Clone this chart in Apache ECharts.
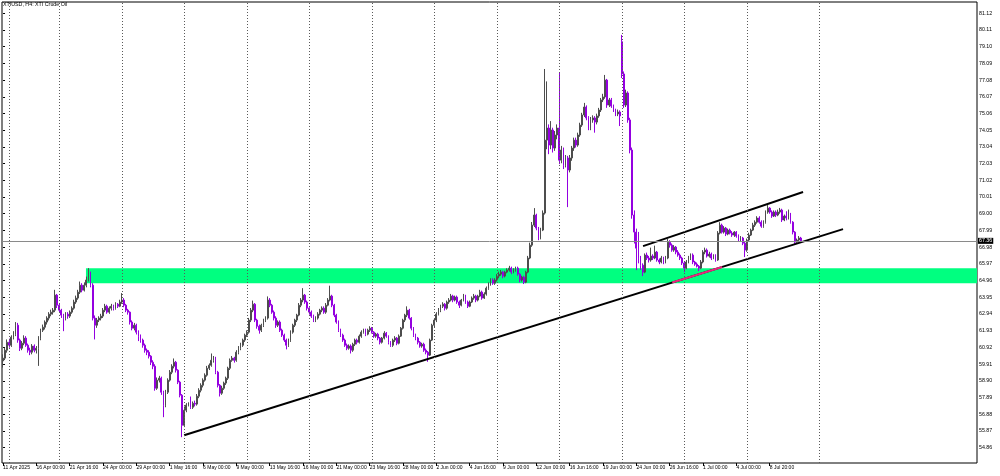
<!DOCTYPE html>
<html><head><meta charset="utf-8">
<script src="https://cdn.jsdelivr.net/npm/echarts/dist/echarts.min.js"></script>
<style>html,body{margin:0;padding:0;background:#fff}#c{width:1000px;height:476px}</style>
</head><body><div id="c"></div>
<script>
const chartTitle = 'XTIUSD, H4: XTI Crude Oil';
const xLabels = ["11 Apr 2025","16 Apr 00:00","21 Apr 16:00","24 Apr 00:00","29 Apr 00:00","1 May 16:00","6 May 00:00","9 May 00:00","13 May 16:00","16 May 00:00","21 May 00:00","23 May 16:00","28 May 00:00","2 Jun 00:00","4 Jun 16:00","9 Jun 00:00","12 Jun 00:00","16 Jun 16:00","19 Jun 00:00","24 Jun 00:00","26 Jun 16:00","1 Jul 00:00","4 Jul 00:00","8 Jul 20:00"];
const yTicks = [54.86,55.87,56.88,57.89,58.90,59.91,60.92,61.93,62.94,63.95,64.96,65.97,66.98,67.99,69.00,70.01,71.02,72.03,73.04,74.05,75.06,76.07,77.08,78.09,79.10,80.11,81.12];
const lastPrice = 67.36;
const weekStarts = [3,27,57,87,117,147,177,207,237,267,297,327,357,392];
const zone = {from: 39.8, top: 65.71, bottom: 64.80};
const supportLine = [[86.9,55.61],[403.2,68.07]];
const channelTop = [[307.2,67.04],[384.0,70.31]];
const highlightSeg = [[321.2,64.84],[345.2,65.78]];

// candles: [open, close, low, high]
const aprA = [[60.10,60.27,59.70,60.50],[60.27,60.75,60.15,60.90],[60.75,61.23,60.60,61.40],[61.23,61.05,60.90,61.45],[61.05,61.54,60.95,61.65],[61.54,61.72,61.40,61.90],[61.72,62.26,61.60,62.45],[62.26,61.36,61.20,62.40],[61.36,60.87,60.70,61.45],[60.87,61.17,60.75,61.30],[61.17,61.48,61.05,61.65],[61.48,61.05,60.95,61.60],[61.05,60.75,60.60,61.15],[60.75,60.63,60.45,60.90],[60.63,61.00,60.50,61.12],[61.00,60.75,60.62,61.10],[60.75,60.87,60.55,61.00],[60.87,61.48,59.80,61.60],[61.48,61.96,61.35,62.05],[61.96,62.14,61.85,62.30],[62.14,62.45,62.00,62.55],[62.45,62.69,62.30,62.80],[62.69,62.93,62.55,63.05],[62.93,63.05,62.80,63.20],[63.05,63.17,62.90,63.30],[63.17,64.08,63.05,64.40],[64.08,63.47,63.30,64.15],[63.47,63.17,63.00,63.55],[63.17,62.87,62.70,63.25],[62.87,62.69,61.90,62.95],[62.69,62.93,62.55,63.05],[62.93,62.81,62.65,63.05],[62.81,63.05,62.70,63.15],[63.05,63.29,62.95,63.40],[63.29,63.66,63.20,63.80],[63.66,63.90,63.55,64.05],[63.90,64.26,63.80,64.40],[64.26,64.68,64.15,64.90],[64.68,64.38,64.25,64.80],[64.38,64.68,64.30,64.85],[64.68,64.99,64.55,65.20],[64.99,65.41,64.90,65.71],[65.41,64.68,64.55,65.50],[64.68,62.69,62.55,64.80],[62.69,62.26,61.40,62.85],[62.26,62.57,62.10,62.70],[62.57,62.69,62.45,62.80],[62.69,62.81,62.55,62.95],[62.81,63.17,62.70,63.30],[63.17,63.41,63.05,63.55],[63.41,63.05,62.95,63.50],[63.05,63.29,62.95,63.40]];
const aprB = [[63.29,63.41,63.15,63.55],[63.41,63.29,63.15,63.50],[63.29,63.53,63.20,63.65],[63.53,63.41,63.30,63.60],[63.41,63.66,63.35,63.80],[63.66,63.78,63.55,64.20],[63.78,63.47,63.35,63.90],[63.47,63.17,63.05,63.55],[63.17,63.05,62.90,63.25],[63.05,62.45,62.30,63.10],[62.45,62.08,61.95,62.55],[62.08,62.26,61.95,62.40],[62.26,61.84,61.70,62.35],[61.84,61.60,61.30,61.95],[61.60,61.36,61.20,61.70],[61.36,61.05,60.90,61.45],[61.05,60.75,60.60,61.15],[60.75,60.63,60.45,60.85],[60.63,60.39,60.25,60.75],[60.39,60.02,59.85,60.45],[60.02,59.78,59.60,60.14],[59.78,58.45,58.30,59.90],[58.45,58.94,58.35,59.10],[58.94,59.06,58.80,59.20],[59.06,58.21,58.05,59.15],[58.21,57.43,56.70,58.30],[57.43,58.21,57.30,58.35],[58.21,58.94,58.10,59.05],[58.94,59.42,58.85,59.55],[59.42,59.78,59.30,59.90],[59.78,60.02,59.65,60.25],[60.02,59.54,59.40,60.10],[59.54,58.82,58.70,59.60],[58.82,58.03,57.90,58.90],[58.03,56.21,55.49,58.10],[56.21,57.12,56.10,57.35]];
const mayA = [[57.12,57.43,57.00,57.55],[57.43,57.49,57.35,57.60],[57.49,57.30,57.20,57.95],[57.30,57.54,57.20,57.65],[57.54,57.49,57.35,57.70],[57.49,57.97,57.40,58.10],[57.97,58.33,57.85,58.45],[58.33,58.63,58.20,58.75],[58.63,58.94,58.50,59.05],[58.94,59.24,58.85,59.35],[59.24,59.66,59.15,59.80],[59.66,59.84,59.55,59.95],[59.84,60.14,59.75,60.55],[60.14,60.27,60.00,60.40],[60.27,59.42,59.30,60.35],[59.42,58.63,58.50,59.50],[58.63,58.15,57.95,58.70],[58.15,58.45,58.05,58.60],[58.45,58.76,58.35,58.85],[58.76,59.06,58.65,59.15],[59.06,59.66,58.95,59.75],[59.66,60.14,59.55,60.25],[60.14,60.27,60.05,60.40],[60.27,60.14,60.00,60.35],[60.14,60.63,60.05,60.75],[60.63,60.87,60.50,61.00],[60.87,61.05,60.75,61.20],[61.05,61.36,60.95,61.45],[61.36,61.66,61.25,61.75],[61.66,61.84,61.55,61.95]];
const mayB = [[61.84,62.57,61.75,62.70],[62.57,63.17,62.45,63.30],[63.17,63.53,63.05,63.75],[63.53,62.57,62.45,63.60],[62.57,62.20,62.05,62.65],[62.20,61.96,61.75,62.30],[61.96,62.26,61.85,62.35],[62.26,62.57,62.15,62.65],[62.57,62.69,62.45,62.80],[62.69,63.78,62.60,64.00],[63.78,63.47,63.35,63.90],[63.47,63.05,62.95,63.55],[63.05,62.69,62.55,63.15],[62.69,62.26,62.10,62.80],[62.26,62.45,62.15,62.55],[62.45,61.96,61.85,62.55],[61.96,61.66,61.55,62.05],[61.66,61.36,61.25,61.75],[61.36,61.05,60.80,61.45],[61.05,61.36,60.95,61.45],[61.36,61.84,61.25,61.95],[61.84,62.26,61.75,62.35],[62.26,62.57,62.15,62.65],[62.57,62.87,62.45,62.95],[62.87,63.47,62.80,63.60],[63.47,63.78,63.35,63.90],[63.78,64.08,63.65,64.50],[64.08,63.66,63.55,64.15],[63.66,63.29,63.15,63.75],[63.29,63.05,62.90,63.35]];
const mayC = [[63.05,62.81,62.70,63.15],[62.81,62.57,62.45,62.90],[62.57,62.69,62.45,62.80],[62.69,62.93,62.60,63.05],[62.93,63.17,62.85,63.25],[63.17,63.29,63.05,63.40],[63.29,63.05,62.95,63.40],[63.05,63.47,62.95,63.60],[63.47,63.78,63.40,63.90],[63.78,64.02,63.70,64.65],[64.02,63.47,63.35,64.10],[63.47,62.87,62.75,63.55],[62.87,62.45,62.35,62.95],[62.45,61.96,61.85,62.55],[61.96,61.66,61.55,62.05],[61.66,61.36,61.25,61.75],[61.36,61.05,60.95,61.45],[61.05,60.87,60.75,61.15],[60.87,61.00,60.78,61.10],[61.00,60.75,60.55,61.10],[60.75,61.11,60.65,61.20],[61.11,61.36,61.00,61.45],[61.36,61.23,61.10,61.45],[61.23,61.60,61.15,61.70],[61.60,61.84,61.50,61.95],[61.84,61.96,61.75,62.05],[61.96,61.72,61.60,62.05],[61.72,61.96,61.65,62.05],[61.96,62.08,61.85,62.20],[62.08,61.84,61.75,62.15]];
const mayD = [[61.84,61.60,61.50,61.90],[61.60,61.72,61.50,61.80],[61.72,61.48,61.35,61.80],[61.48,61.23,61.10,61.55],[61.23,61.48,61.15,61.55],[61.48,61.78,61.40,61.90],[61.78,61.60,61.50,61.85],[61.60,61.23,61.10,61.65],[61.23,61.05,60.95,61.30],[61.05,61.36,60.95,61.45],[61.36,61.48,61.25,61.60],[61.48,61.17,61.05,61.55],[61.17,61.60,61.10,61.70],[61.60,62.08,61.55,62.15],[62.08,62.57,62.00,62.65],[62.57,62.87,62.45,62.95],[62.87,63.17,62.75,63.40],[63.17,62.69,62.60,63.25],[62.69,62.08,61.95,62.75],[62.08,61.66,61.55,62.15],[61.66,61.48,61.35,61.75],[61.48,61.23,61.10,61.55],[61.23,61.00,60.90,61.30],[61.00,61.11,60.90,61.20],[61.11,60.75,60.65,61.20],[60.75,60.63,60.50,60.85],[60.63,60.45,60.05,60.70],[60.45,61.36,60.40,61.45],[61.36,62.26,61.30,62.35],[62.26,62.57,62.15,62.65]];
const junA = [[62.57,62.93,62.45,63.05],[62.93,63.17,62.85,63.30],[63.17,63.41,63.05,63.50],[63.41,63.53,63.30,63.65],[63.53,63.29,63.15,63.60],[63.29,63.66,63.20,63.75],[63.66,63.78,63.55,63.90],[63.78,64.02,63.70,64.15],[64.02,63.78,63.65,64.10],[63.78,63.96,63.70,64.05],[63.96,63.66,63.55,64.05],[63.66,63.47,63.30,63.75],[63.47,63.78,63.40,63.85],[63.78,64.02,63.70,64.15],[64.02,63.66,63.55,64.10],[63.66,63.41,63.30,63.75],[63.41,63.66,63.35,63.75],[63.66,63.90,63.60,64.00],[63.90,64.02,63.80,64.15],[64.02,63.78,63.65,64.10],[63.78,64.02,63.70,64.10],[64.02,64.26,63.95,64.40],[64.26,63.90,63.80,64.35],[63.90,64.14,63.85,64.25],[64.14,64.50,64.05,64.60],[64.50,64.75,64.40,64.85],[64.75,64.99,64.65,65.10],[64.99,64.80,64.70,65.10],[64.80,64.99,64.70,65.10],[64.99,65.23,64.90,65.35]];
const junB = [[65.23,65.35,65.10,65.50],[65.35,65.47,65.25,65.60],[65.47,65.23,65.10,65.55],[65.23,65.47,65.15,65.55],[65.47,65.59,65.40,65.70],[65.59,65.71,65.50,65.85],[65.71,65.47,65.35,65.80],[65.47,65.59,65.40,65.70],[65.59,65.71,65.50,65.80],[65.71,65.35,65.25,65.80],[65.35,64.99,64.85,65.40],[64.99,65.17,64.90,65.25],[65.17,64.86,64.75,65.25],[64.86,65.47,64.80,65.55],[65.47,66.32,65.40,66.45],[66.32,67.10,66.25,67.25],[67.10,68.31,67.00,68.50],[68.31,68.92,68.20,69.34],[68.92,68.13,68.00,69.00],[68.13,67.53,67.40,68.20],[67.53,68.01,67.45,68.15],[68.01,69.04,67.95,69.20],[69.04,73.45,68.95,77.75],[73.45,74.18,72.90,77.00],[74.18,73.15,72.60,74.40],[73.15,74.06,72.90,74.60],[74.06,72.97,72.70,74.20],[72.97,73.76,72.80,74.00],[73.76,74.18,73.50,74.40],[74.18,72.24,72.00,77.51]];
const junC = [[72.24,72.85,72.05,73.10],[72.85,71.94,71.70,73.00],[71.94,72.37,71.80,72.55],[72.37,71.64,69.40,72.50],[71.64,72.37,71.50,72.55],[72.37,72.97,72.20,73.10],[72.97,73.45,72.80,73.60],[73.45,73.15,73.00,73.60],[73.15,73.76,73.05,73.90],[73.76,74.36,73.65,74.50],[74.36,74.97,74.25,75.10],[74.97,75.45,74.85,75.70],[75.45,74.79,74.65,75.55],[74.79,74.18,74.05,74.90],[74.18,74.67,74.05,74.85],[74.67,74.79,74.50,74.95],[74.79,74.54,73.90,74.90],[74.54,74.91,74.40,75.05],[74.91,75.27,74.80,75.40],[75.27,75.88,75.15,76.00],[75.88,76.06,75.75,76.25],[76.06,77.08,75.95,77.39],[77.08,75.57,75.40,77.15],[75.57,75.88,75.45,76.00],[75.88,75.51,75.40,76.00],[75.51,75.27,75.15,75.60],[75.27,75.03,74.90,75.35],[75.03,75.15,74.90,75.30],[75.15,74.91,74.30,75.25],[79.40,77.45,77.20,79.81]];
const junD = [[77.45,75.57,75.40,77.60],[75.57,76.30,75.45,76.50],[76.30,74.67,74.50,76.40],[74.67,72.85,72.65,74.80],[72.85,68.92,68.70,73.00],[68.92,67.89,67.20,69.20],[67.89,66.92,65.59,68.10],[66.92,66.32,66.00,67.90],[66.32,65.89,65.60,66.45],[65.89,65.47,65.23,66.00],[65.47,66.50,65.40,66.60],[66.50,66.32,66.20,66.65],[66.32,66.20,66.05,66.45],[66.20,66.44,66.10,66.95],[66.44,66.32,66.20,66.55],[66.32,66.68,66.25,67.07],[66.68,66.20,66.10,66.75],[66.20,66.08,65.95,66.30],[66.08,66.32,66.00,66.45],[66.32,66.08,65.95,66.40],[66.08,66.32,66.00,66.45],[66.32,67.28,66.25,67.47],[67.28,67.10,66.95,67.40],[67.10,66.80,66.70,67.20],[66.80,66.98,66.70,67.10],[66.98,66.68,66.55,67.05],[66.68,66.50,66.40,66.80],[66.50,66.32,66.20,66.60],[66.32,66.02,65.90,66.40],[66.02,65.71,65.47,66.10]];
const julA = [[65.71,66.08,65.65,66.20],[66.08,66.32,66.00,66.45],[66.32,66.50,66.20,66.60],[66.50,66.08,65.95,66.60],[66.08,65.95,65.85,66.15],[65.95,65.83,65.75,66.05],[65.83,65.71,65.53,65.90],[65.71,66.08,65.65,66.20],[66.08,66.68,66.00,66.80],[66.68,66.80,66.55,66.95],[66.80,66.44,66.35,66.90],[66.44,66.56,66.35,66.70],[66.56,66.32,66.20,66.65],[66.32,66.44,66.25,66.55],[66.44,66.20,66.10,66.55],[66.20,67.83,66.15,67.95],[67.83,68.31,67.75,68.49],[68.31,67.89,67.80,68.40],[67.89,68.13,67.80,68.25],[68.13,67.77,67.65,68.20],[67.77,68.01,67.70,68.10],[68.01,67.83,67.75,68.10],[67.83,67.71,67.60,67.95],[67.71,67.89,67.60,67.95],[67.89,67.65,67.55,67.95],[67.65,67.41,67.30,67.75],[67.41,67.53,67.30,67.65],[67.53,67.22,67.10,67.60],[67.22,66.80,66.38,67.30],[66.80,67.41,66.70,67.50]];
const julB = [[67.41,67.71,67.35,67.85],[67.71,68.01,67.65,68.10],[68.01,68.31,67.95,68.45],[68.31,68.49,68.20,68.60],[68.49,68.74,68.40,68.85],[68.74,68.49,68.40,68.85],[68.49,68.25,68.15,68.60],[68.25,68.49,68.15,68.60],[68.49,69.10,68.40,69.20],[69.10,69.34,69.00,69.52],[69.34,69.10,69.00,69.40],[69.10,68.86,68.75,69.20],[68.86,69.10,68.80,69.20],[69.10,68.92,68.80,69.20],[68.92,69.10,68.85,69.25],[69.10,69.22,69.00,69.35],[69.22,68.62,68.50,69.30],[68.62,68.86,68.55,68.95],[68.86,68.74,68.60,69.15],[68.74,68.98,68.65,69.25],[68.98,68.49,68.40,69.05],[68.49,67.89,67.75,68.55],[67.89,67.28,67.15,67.95],[67.28,67.41,67.20,67.50],[67.41,67.53,67.30,67.65],[67.53,67.36,67.25,67.60]];

const candles = [].concat(aprA, aprB, mayA, mayB, mayC, mayD, junA, junB, junC, junD, julA, julB);
const SLOTS = 468;      // bar slots across the plot (incl. empty right margin)
const LABEL_STEP = 16;  // one time label every 16 bars
const cats = Array.from({length: SLOTS}, (_, i) => String(i));
const isLabel = (i) => i % LABEL_STEP === 0 && i / LABEL_STEP < xLabels.length;

// ECharts candlestick order: [open, close, lowest, highest]
const ohlc = candles.map(c => [c[0], c[1], c[2], c[3]]);

const FONT = 'Liberation Sans';
const chart = echarts.init(document.getElementById('c'), null, {renderer: 'canvas'});
chart.setOption({
  animation: false,
  backgroundColor: '#fff',
  title: {text: chartTitle, left: 3, top: 2, padding: 0,
    textStyle: {fontSize: 5.3, fontWeight: 'normal', color: '#000', fontFamily: FONT}},
  grid: {left: 2, right: 23, top: 2, bottom: 13, show: true, borderColor: '#000', borderWidth: 1, backgroundColor: 'transparent'},
  xAxis: [
    {type: 'category', data: cats, boundaryGap: true,
     axisLine: {show: false},
     axisTick: {show: true, interval: (i) => isLabel(i), alignWithLabel: true, length: 3, lineStyle: {color: '#000', width: 1}},
     axisLabel: {interval: (i) => isLabel(i), formatter: (v, i) => xLabels[i / LABEL_STEP] || '',
       align: 'left', margin: 2, fontSize: 5, color: '#000', fontFamily: FONT},
     splitLine: {show: false}},
    {type: 'value', min: -0.5, max: SLOTS - 0.5, show: false}
  ],
  yAxis: {type: 'value', position: 'right', min: 53.93, max: 81.80, scale: true,
    axisLine: {show: false},
    axisTick: {show: true, customValues: yTicks, length: 2, lineStyle: {color: '#000'}},
    axisLabel: {customValues: yTicks, formatter: (v) => v.toFixed(2), margin: 2, fontSize: 5.3, color: '#000', fontFamily: FONT},
    splitLine: {show: false}},
  series: [
    {type: 'line', xAxisIndex: 1, data: [], silent: true, z: 1,
     markLine: {silent: true, symbol: 'none', label: {show: false},
       lineStyle: {type: [1, 2], color: '#5a5a5a', width: 1},
       data: weekStarts.map(v => ({xAxis: v}))},
     markArea: {silent: true, itemStyle: {color: '#00ff80'},
       data: [[{coord: [zone.from, zone.top]}, {coord: [SLOTS - 0.5, zone.bottom]}]]}},
    {type: 'line', xAxisIndex: 1, data: [], silent: true, z: 2,
     markLine: {silent: true, symbol: 'none',
       lineStyle: {type: 'solid', color: '#8a8a8a', width: 1},
       label: {show: true, position: 'end', distance: 1, formatter: lastPrice.toFixed(2),
         backgroundColor: '#000', color: '#fff', fontSize: 5.3, padding: [1, 1, 0, 1], fontFamily: FONT},
       data: [{yAxis: lastPrice}]}},
    {type: 'candlestick', xAxisIndex: 0, data: ohlc, barWidth: 1.4, z: 3,
     itemStyle: {color: '#7a7a7a', color0: '#9400e0', borderColor: '#4d4d4d', borderColor0: '#9400e0', borderWidth: 1}},
    {type: 'line', xAxisIndex: 1, data: supportLine, symbol: 'none', z: 4, lineStyle: {color: '#000', width: 2}},
    {type: 'line', xAxisIndex: 1, data: channelTop, symbol: 'none', z: 4, lineStyle: {color: '#000', width: 2}},
    {type: 'line', xAxisIndex: 1, data: highlightSeg, symbol: 'none', z: 5, lineStyle: {color: '#e8287f', width: 2}}
  ]
});
</script></body></html>
